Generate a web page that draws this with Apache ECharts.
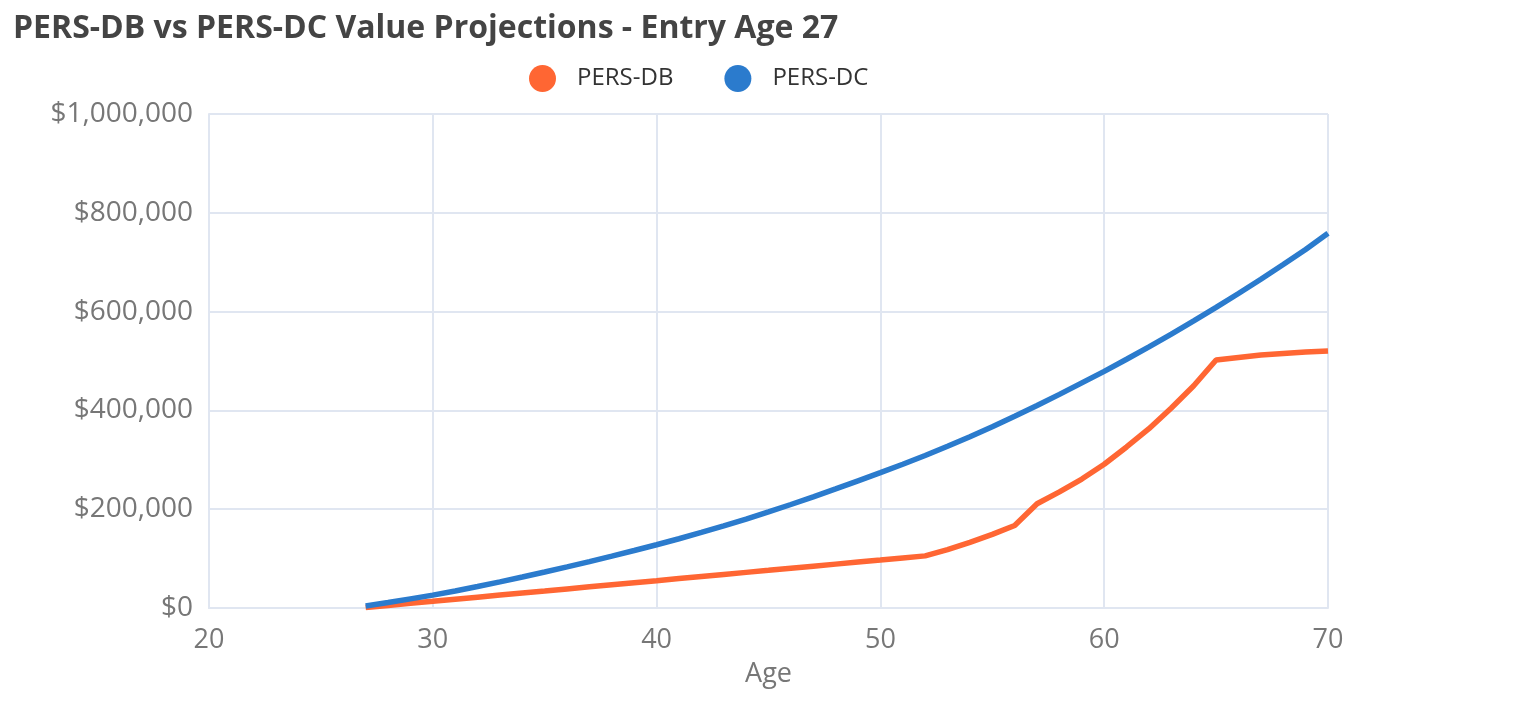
<!DOCTYPE html>
<html>
<head>
<meta charset="utf-8">
<script src="https://cdn.jsdelivr.net/npm/echarts@6/dist/echarts.min.js"></script>
<style>
html,body{margin:0;padding:0;background:#fff;}
#chart{width:1526px;height:716px;}
</style>
</head>
<body>
<div id="chart"></div>
<script>
const ages = [27,28,29,30,31,32,33,34,35,36,37,38,39,40,41,42,43,44,45,46,47,48,49,50,51,52,53,54,55,56,57,58,59,60,61,62,63,64,65,66,67,68,69,70];
const persDB = [1000,5200,9400,13500,17700,21900,26100,30300,34400,38600,42800,47000,51200,55300,59500,63700,67900,72100,76200,80400,84600,88800,93000,97100,101300,105500,118000,133000,149000,167000,211000,235000,261000,291000,326000,363000,405000,450000,502000,507000,512000,515000,518000,520000];
const persDC = [4000,11000,18500,26000,34500,43500,52900,62700,72800,83200,94000,105100,116400,128000,140200,153000,166300,180100,194500,209500,225000,241000,257500,274000,291000,308800,327400,346800,367000,388000,409800,432400,455800,479000,503500,528700,554600,581200,608500,636600,665500,695200,725800,758500];
const xTicks = [20,30,40,50,60,70];
const seriesNames = ['PERS-DB','PERS-DC'];

const chart = echarts.init(document.getElementById('chart'));
const fnt = '"Open Sans", "Noto Sans", sans-serif';
chart.setOption({
  animation: false,
  title: {
    text: 'PERS-DB vs PERS-DC Value Projections - Entry Age 27',
    left: 8, top: 8,
    textStyle: {fontFamily: fnt, fontWeight: 'bold', fontSize: 32, color: '#444'}
  },
  legend: {
    top: 60, left: 524,
    icon: 'circle', itemWidth: 27, itemHeight: 27, itemGap: 51,
    data: seriesNames,
    textStyle: {fontFamily: fnt, fontSize: 24, color: '#333', padding: [0,0,0,16]}
  },
  grid: {left: 209, right: 198, top: 114, bottom: 108},
  xAxis: {
    type: 'value', min: xTicks[0], max: xTicks[xTicks.length-1], interval: 10,
    name: 'Age', nameLocation: 'middle', nameGap: 53,
    nameTextStyle: {fontFamily: fnt, fontSize: 27, color: '#777'},
    axisLine: {show: true, lineStyle: {color: '#e0e6f1', width: 2}},
    axisTick: {show: false},
    axisLabel: {fontFamily: fnt, fontSize: 27, color: '#777', margin: 19},
    splitLine: {show: true, lineStyle: {color: '#e0e6f1', width: 2}}
  },
  yAxis: {
    type: 'value', min: 0, max: 1000000, interval: 200000,
    axisLine: {show: true, lineStyle: {color: '#e0e6f1', width: 2}},
    axisTick: {show: false},
    axisLabel: {fontFamily: fnt, fontSize: 28, color: '#777', margin: 16,
      formatter: v => '$' + v.toLocaleString('en-US')},
    splitLine: {show: true, lineStyle: {color: '#e0e6f1', width: 2}}
  },
  series: [
    {name: seriesNames[0], type: 'line', showSymbol: false, symbol: 'circle',
     color: '#ff6633', lineStyle: {width: 5.5, color: '#ff6633'},
     data: ages.map((a,i) => [a, persDB[i]])},
    {name: seriesNames[1], type: 'line', showSymbol: false, symbol: 'circle',
     color: '#2b7bcd', lineStyle: {width: 5.5, color: '#2b7bcd'},
     data: ages.map((a,i) => [a, persDC[i]])}
  ]
});
</script>
</body>
</html>
